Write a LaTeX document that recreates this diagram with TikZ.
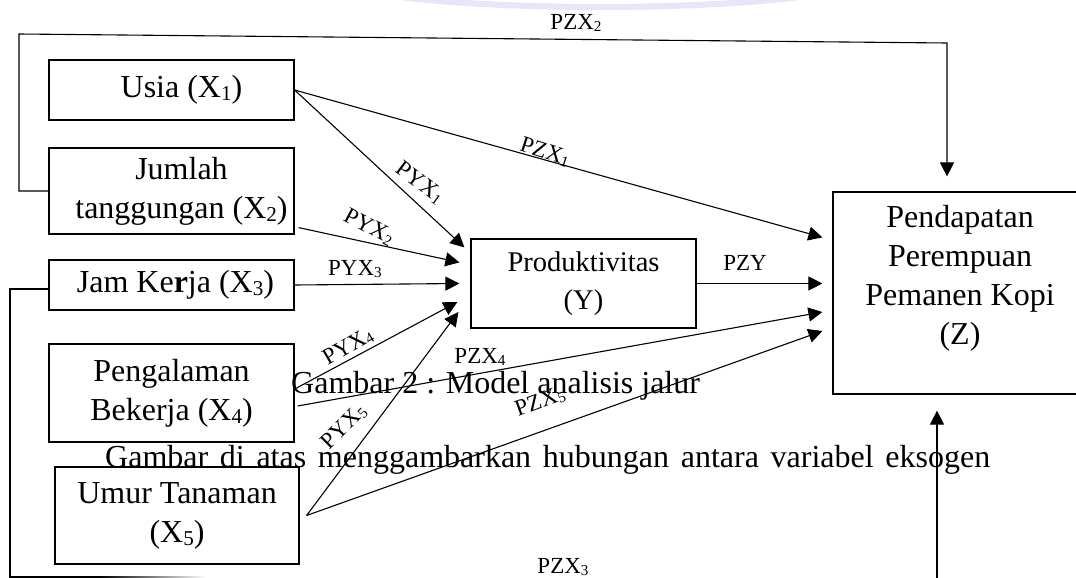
\documentclass[tikz,border=0pt]{standalone}
\usepackage{fontspec}
\setmainfont{Liberation Serif}
\usepackage{graphicx}
\usetikzlibrary{arrows.meta,calc}
\newcommand\bigf{\fontsize{32}{39}\selectfont}
\newcommand\midf{\fontsize{28.5}{38}\selectfont}
\newcommand\labf{\fontsize{23}{27}\selectfont}
\newcommand\sbs[1]{\raisebox{-0.1em}{\scalebox{0.66}{#1}}}
\begin{document}
\begin{tikzpicture}[x=1pt,y=-1pt,
  box/.style={draw, line width=1.2pt, inner sep=0pt, align=center, font=\bigf},
  conn/.style={line width=1.1pt, -{Triangle[length=14pt,width=14pt]}},
  plainline/.style={line width=1.1pt},
  lab/.style={font=\labf, inner sep=0pt}]
\clip (0,0) rectangle (1076,578);
\fill[white] (0,0) rectangle (1076,578);
% faint watermark arc
\draw[line width=6pt, color={rgb,255:red,230;green,230;blue,248}] (600,-25) ellipse [x radius=275, y radius=32];

% boxes
\node[box, minimum width=245pt, minimum height=60pt] (usia) at (171.5,90) {\hspace*{20pt}Usia (X\sbs{1})};
\node[box, minimum width=245pt, minimum height=86pt] (jumlah) at (171.5,191) {\hspace*{20pt}Jumlah\\\hspace*{20pt}tanggungan (X\sbs{2})};
\node[box, minimum width=245pt, minimum height=50pt] (jam) at (171.5,285) {\hspace*{8pt}Jam Ke\textbf{r}ja (X\sbs{3})};
\node[box, minimum width=245pt, minimum height=98pt] (peng) at (171.5,393) {Pengalaman\\Bekerja (X\sbs{4})};
\node[box, minimum width=244pt, minimum height=97pt] (umur) at (177,515.5) {Umur Tanaman\\(X\sbs{5})};
\node[box, font=\midf, minimum width=225pt, minimum height=89pt] (Y) at (583.5,283.5) {Produktivitas\\(Y)};
\node[box, minimum width=254pt, minimum height=202pt] (Z) at (960,293) {};
\node[font=\bigf, align=center, inner sep=0pt] (ztext) at (960,278) {Pendapatan\\Perempuan\\Pemanen Kopi\\(Z)};

% overlay document text
\node[font=\bigf, anchor=base west, inner sep=0pt] (cap) at (291,393) {Gambar 2 : Model analisis jalur};
\node[font=\bigf, anchor=base west, inner sep=0pt] (body) at (105,467) {\makebox[885pt][s]{Gambar di atas menggambarkan hubungan antara variabel eksogen}};

% arrow end points
\coordinate (ty1) at ($(Y.north west)+(-6,9)$);
\coordinate (ty2) at ($(Y.north west)+(-11,24)$);
\coordinate (ty3) at ($(Y.west)+(-11,0)$);
\coordinate (ty4) at ($(Y.west)+(-13,18.5)$);
\coordinate (ty5) at ($(Y.west)+(-12,28.5)$);
\coordinate (tz1) at ($(Z.north west)+(-10,46)$);
\coordinate (tzy) at ($(Z.west)+(-10,-9.5)$);
\coordinate (tz4) at ($(Z.west)+(-10,19)$);
\coordinate (tz5) at ($(Z.west)+(-10,38)$);
\coordinate (tztop) at ($(Z.north)+(-13,-15)$);
\coordinate (tzbot) at ($(Z.south)+(-23,16)$);
% start points
\coordinate (sj) at ($(jumlah.south east)+(4,-7)$);
\coordinate (sp1) at ($(peng.east)+(2,-5)$);
\coordinate (sp2) at ($(peng.east)+(3,13)$);
\coordinate (su) at ($(umur.east)+(7,0)$);
\coordinate (sjam) at ($(jam.west)+(0,4)$);
% loop corners
\coordinate (a1) at (19,191);
\coordinate (a2) at (19,34);
\coordinate (a3) at (947,43);
\coordinate (b1) at (10,289);
\coordinate (b2) at (10,579.5);
\coordinate (b3) at (937,579.5);

% connectors
\draw[conn] (usia.east) -- (ty1);
\draw[conn] (usia.east) -- (tz1);
\draw[conn] (sj) -- (ty2);
\draw[conn] (jam.east) -- (ty3);
\draw[conn] (sp1) -- (ty4);
\draw[conn] (sp2) -- (tz4);
\draw[conn] (su) -- (ty5);
\draw[conn] (su) -- (tz5);
\draw[conn] (Y.east |- tzy) -- (tzy);
\draw[conn] (jumlah.west) -- (a1) -- (a2) -- (a3) -- (tztop);
\draw[conn] (sjam) -- (b1) -- (b2) -- (b3) -- (tzbot);
% visible bottom stub of the lower loop
\draw[plainline] (10,577) -- (100,577);
\shade[left color=black, right color=white] (100,576.45) rectangle (206,577.55);

% labels
\node[lab, rotate=-37] (l1) at (420,183) {PYX\sbs{1}};
\node[lab, rotate=-28] (l2) at (369,227) {PYX\sbs{2}};
\node[lab] (l3) at (355,269) {PYX\sbs{3}};
\node[lab, rotate=30] (l4) at (348,347) {PYX\sbs{4}};
\node[lab, rotate=45] (l5) at (344,427) {PYX\sbs{5}};
\node[lab, rotate=-18] (k1) at (545,152) {PZX\sbs{1}};
\node[lab] (k2) at (576,23) {PZX\sbs{2}};
\node[lab] (k3) at (563,567) {PZX\sbs{3}};
\node[lab] (k4) at (480,357) {PZX\sbs{4}};
\node[lab, rotate=20] (k5) at (540,402) {PZX\sbs{5}};
\node[lab] (ky) at (745,263) {PZY};
\end{tikzpicture}
\end{document}
